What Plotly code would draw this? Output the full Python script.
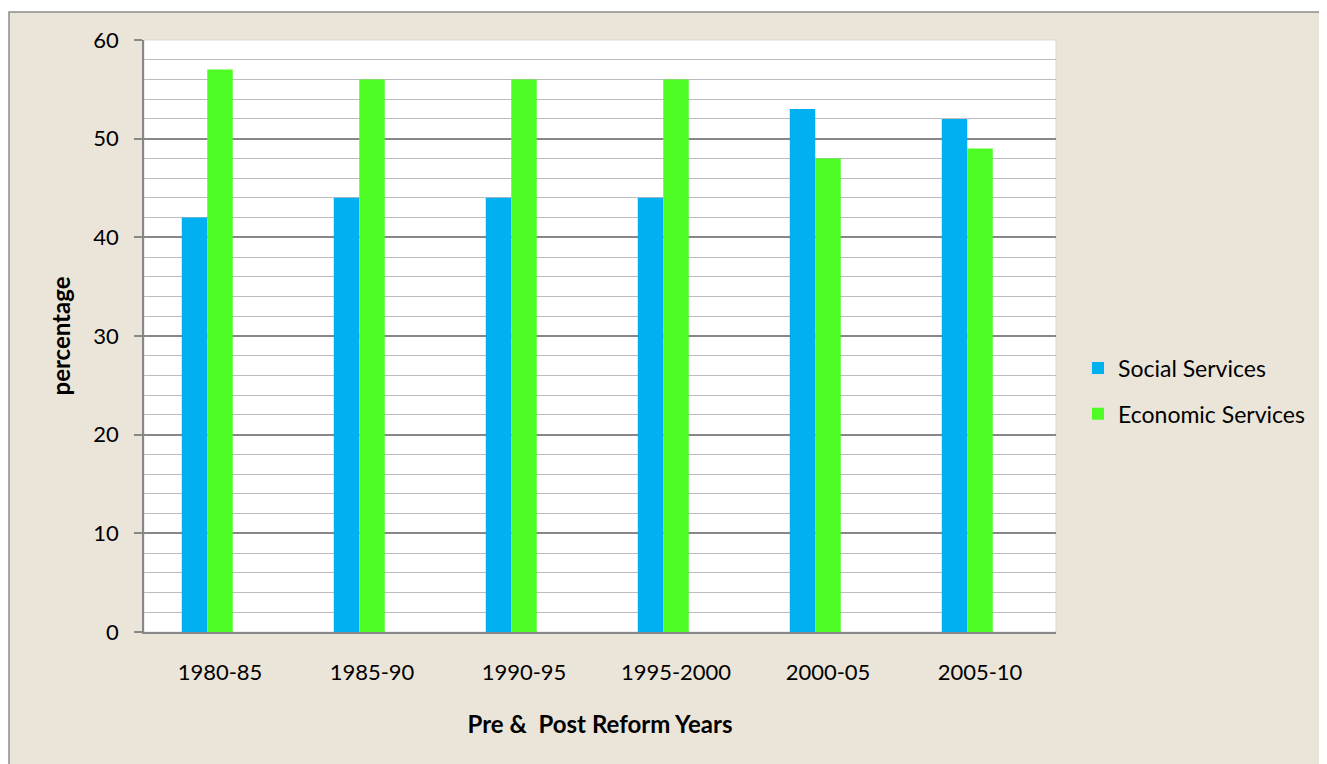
import plotly.graph_objects as go

categories = ["1980-85", "1985-90", "1990-95", "1995-2000", "2000-05", "2005-10"]
social = [42, 44, 44, 44, 53, 52]
economic = [57, 56, 56, 56, 48, 49]
series3 = [None, None, None, None, None, None]  # empty third series in the original workbook

# the page body adds an 8px margin; work in screen pixels and convert
OFF = 8
W, H = 1327, 764
L, T = 144 - OFF, 40 - OFF
R, B = W - (1056 - OFF), H - (632 - OFF)
pw, ph = W - L - R, H - T - B

def px(x):  # screen x -> paper
    return (x - OFF - L) / pw

def py(y):  # screen y -> paper
    return (T + ph - (y - OFF)) / ph

BEIGE = "#ebe5d9"
FONT = "Lato"
fig = go.Figure()
fig.add_trace(go.Bar(x=categories, y=social, name="Social Services",
                     marker=dict(color="#00b0f0", line=dict(width=0)), legendgroup="a"))
fig.add_trace(go.Bar(x=categories, y=economic, name="Economic Services",
                     marker=dict(color="#4dfc23", line=dict(width=0)), legendgroup="b"))
fig.add_trace(go.Bar(x=categories, y=series3, name="Series 3", showlegend=False,
                     marker=dict(color="#a0a0a0")))

fig.update_layout(
    width=W, height=H,
    margin=dict(l=L, r=R, t=T, b=B, autoexpand=False),
    paper_bgcolor=BEIGE,
    plot_bgcolor="rgba(0,0,0,0)",
    barmode="group", bargap=0.497, bargroupgap=0,
    font=dict(family=FONT, color="black", size=21),
    showlegend=True,
    legend=dict(x=px(1078), y=py(391), xanchor="left", yanchor="middle",
                font=dict(size=23, family=FONT), bgcolor="rgba(0,0,0,0)",
                tracegroupgap=13, traceorder="grouped", itemwidth=30),
    shapes=[
        # white page area above / left of the chart frame
        dict(type="rect", xref="paper", yref="paper", layer="below",
             x0=px(0), x1=px(1400), y0=py(12), y1=py(0),
             fillcolor="white", line=dict(width=0)),
        dict(type="rect", xref="paper", yref="paper", layer="below",
             x0=px(0), x1=px(9), y0=py(800), y1=py(0),
             fillcolor="white", line=dict(width=0)),
        # frame border (top and left only; others run off the page)
        dict(type="path", xref="paper", yref="paper", layer="below",
             path=f"M {px(9)},{py(800)} L {px(9)},{py(12)} L {px(1400)},{py(12)}",
             line=dict(color="#8c8c8c", width=1.5)),
        # white plot area
        dict(type="rect", xref="paper", yref="paper", layer="below",
             x0=0, x1=1, y0=0, y1=1,
             fillcolor="white", line=dict(color="#d9d9d9", width=1)),
    ],
)

fig.update_yaxes(
    range=[0, 60], dtick=10, tick0=0,
    showgrid=True, gridcolor="#878787", gridwidth=1.5,
    minor=dict(dtick=2, showgrid=True, gridcolor="#bdbdbd", gridwidth=1.2, ticks=""),
    showline=True, linecolor="#878787", linewidth=1.5,
    ticks="outside", ticklen=8, tickcolor="#878787", tickwidth=1.5,
    ticklabelstandoff=11,
    tickfont=dict(size=22, family=FONT),
    title=dict(text="<b>percentage</b>", font=dict(size=24, family=FONT), standoff=16),
    zeroline=False, fixedrange=True, automargin=False,
)
fig.update_xaxes(
    type="category",
    showline=True, linecolor="#878787", linewidth=1.5,
    ticks="", showgrid=False,
    ticklabelstandoff=20,
    tickfont=dict(size=22, family=FONT),
    title=dict(text="<b>Pre &  Post Reform Years</b>", font=dict(size=24, family=FONT), standoff=32),
    fixedrange=True, automargin=False,
)

fig.write_html("out.html", post_script="document.body.style.overflow='hidden';")
